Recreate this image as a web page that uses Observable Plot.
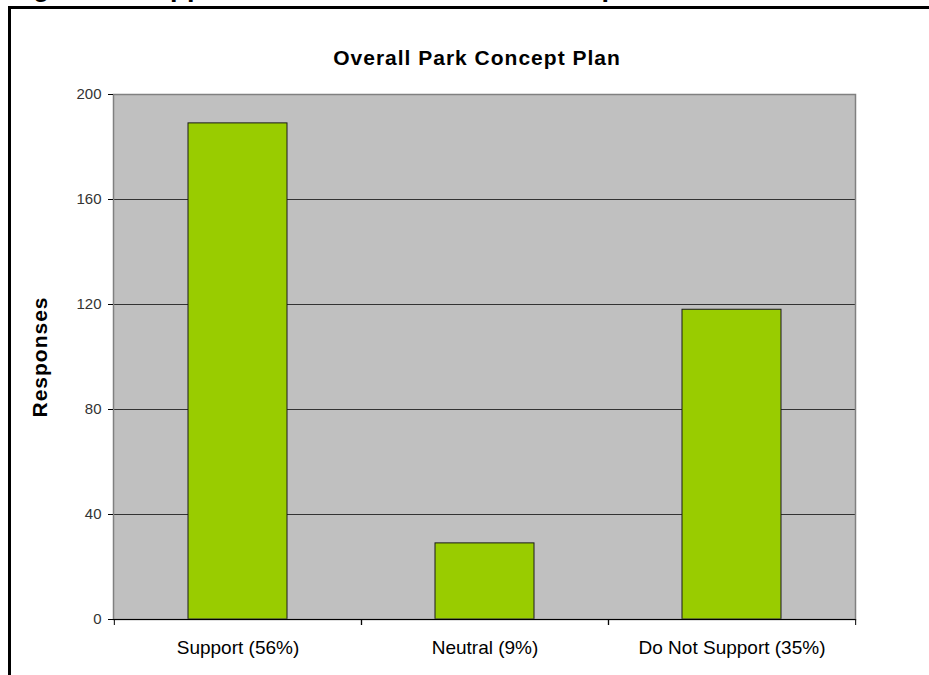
<!DOCTYPE html>
<html>
<head>
<meta charset="utf-8">
<script src="https://cdn.jsdelivr.net/npm/d3@7"></script>
<script src="https://cdn.jsdelivr.net/npm/@observablehq/plot@0.6"></script>
<style>
  html, body { margin: 0; padding: 0; background: #fff; overflow: hidden; }
  #wrap { position: relative; width: 929px; height: 675px; overflow: hidden; font-family: "Liberation Sans", Arial, sans-serif; }
  #caption { position: absolute; left: 8px; top: -26.5px; font-size: 27px; line-height: 27px; font-weight: bold; letter-spacing: 0.5px; white-space: nowrap; color: #000; }
  #hbar { position: absolute; left: 8px; top: 6px; width: 921px; height: 3px; background: #000; }
  #vbar { position: absolute; left: 8px; top: 6px; width: 3px; height: 669px; background: #000; }
  #chart { position: absolute; left: 0; top: 0; }
</style>
</head>
<body>
<div id="wrap">
  <div id="caption"></div>
  <div id="hbar"></div>
  <div id="vbar"></div>
  <div id="chart"></div>
</div>
<script>
const categories = ["Support (56%)", "Neutral (9%)", "Do Not Support (35%)"];
const responses = [189, 29, 118];
const yTicks = [0, 40, 80, 120, 160, 200];
const gridTicks = [40, 80, 120, 160];
const chartTitle = "Overall Park Concept Plan";
const yLabel = "Responses";
const figureCaption = "Figure 3: Support for the Overall Park Concept Plan";

document.getElementById("caption").textContent = figureCaption;

const data = categories.map((c, i) => ({category: c, value: responses[i]}));

const W = 929, H = 675;
const mL = 113, mR = 74, mT = 94, mB = 56;
const step = (W - mL - mR) / categories.length;

const chart = Plot.plot({
  width: W, height: H,
  marginLeft: mL, marginRight: mR, marginTop: mT, marginBottom: mB,
  style: {fontFamily: "'Liberation Sans', Arial, sans-serif", background: "transparent", color: "#000"},
  x: {domain: categories, paddingInner: 0.6, paddingOuter: 0.3, axis: null},
  y: {domain: [0, 200], axis: null},
  marks: [
    Plot.frame({fill: "#c0c0c0", stroke: null}),
    Plot.ruleY(gridTicks, {stroke: "#333", strokeWidth: 1}),
    Plot.barY(data, {x: "category", y: "value", fill: "#99cc00", stroke: "#1a1a1a", strokeWidth: 1}),
    Plot.frame({stroke: "#808080", strokeWidth: 1.5}),
    Plot.ruleY([0], {stroke: "#000", strokeWidth: 1}),
    Plot.axisY({ticks: yTicks, tickSize: 5, tickPadding: 7, fontSize: 15, label: null, fill: "#333"}),
    Plot.axisX({tickSize: 0, tickPadding: 21, fontSize: 19, label: null}),
    Plot.axisX({tickSize: 6, dx: step / 2, tickFormat: () => "", label: null}),
    Plot.axisX({tickSize: 6, dx: -step / 2, tickFormat: () => "", label: null}),
    Plot.text([yLabel], {frameAnchor: "left", textAnchor: "middle", dx: -73, rotate: -90, fontSize: 21, fontWeight: "bold", fill: "#000"}),
    Plot.text([chartTitle], {frameAnchor: "top", textAnchor: "middle", dx: -7.5, dy: -44, fontSize: 21, fontWeight: "bold", fill: "#000"})
  ]
});

d3.select(chart).selectAll("g[aria-label='text'] text").style("letter-spacing", "1px");
document.getElementById("chart").appendChild(chart);
</script>
</body>
</html>
